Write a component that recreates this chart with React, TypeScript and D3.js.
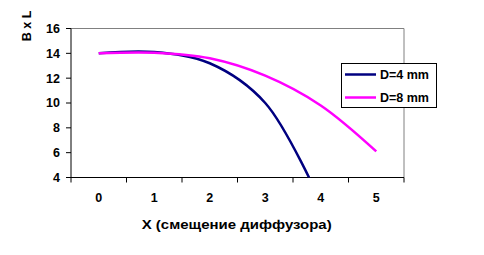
import React from "react";
import * as d3 from "d3";

const categories = ["0", "1", "2", "3", "4", "5"];
const seriesD4 = [14.0, 14.1, 13.2, 10.0, 2.0];
const seriesD8 = [14.0, 14.05, 13.6, 12.2, 9.8, 6.1];
const yTicks = [4, 6, 8, 10, 12, 14, 16];
const seriesNames = ["D=4 mm", "D=8 mm"];
const seriesColors = ["#000080", "#FF00FF"];

const W = 484;
const H = 255;
const left = 71;
const right = 404;
const top = 28.5;
const bottom = 177.5;
const FONT = "'Liberation Sans', Arial, sans-serif";

export default function App() {
  const x = d3.scaleBand<string>().domain(categories).range([left, right]).padding(0);
  const y = d3.scaleLinear().domain([4, 16]).range([bottom, top]);
  const cx = (i: number) => (x(categories[i]) as number) + x.bandwidth() / 2;
  const line = d3
    .line<number>()
    .x((_, i) => cx(i))
    .y((d) => y(d))
    .curve(d3.curveCatmullRom.alpha(0.5));
  const series = [seriesD4, seriesD8];
  const boundaries = [...categories.map((c) => x(c) as number), right];

  return (
    <svg
      width={W}
      height={H}
      style={{ position: "absolute", left: 0, top: 0, background: "#fff" }}
      fontFamily={FONT}
      fontWeight="bold"
    >
      <defs>
        <clipPath id="plotclip">
          <rect x={left} y={top} width={right - left} height={bottom - top} />
        </clipPath>
      </defs>
      <rect x={0} y={0} width={W} height={H} fill="#fff" />
      {/* plot border top/right */}
      <line x1={left} x2={right} y1={top} y2={top} stroke="#808080" strokeWidth={1} />
      <line x1={right} x2={right} y1={top} y2={bottom} stroke="#808080" strokeWidth={1} />
      {/* y axis */}
      <line x1={left} x2={left} y1={top} y2={bottom} stroke="#000" strokeWidth={1} />
      {yTicks.map((t) => (
        <g key={t}>
          <line x1={left - 5} x2={left} y1={y(t)} y2={y(t)} stroke="#000" strokeWidth={1} />
          <text x={60} y={y(t)} dy="0.35em" textAnchor="end" fontSize={12.5} fill="#000">
            {t}
          </text>
        </g>
      ))}
      {/* x axis */}
      <line x1={left} x2={right} y1={bottom} y2={bottom} stroke="#000" strokeWidth={1} />
      {boundaries.map((b, i) => (
        <line key={i} x1={b} x2={b} y1={bottom} y2={bottom + 5} stroke="#000" strokeWidth={1} />
      ))}
      {categories.map((c, i) => (
        <text key={c} x={cx(i)} y={201.5} textAnchor="middle" fontSize={12.5} fill="#000">
          {c}
        </text>
      ))}
      {/* lines */}
      <g clipPath="url(#plotclip)">
        {series.map((s, k) => (
          <path
            key={k}
            d={line(s) as string}
            fill="none"
            stroke={seriesColors[k]}
            strokeWidth={2.5}
            strokeLinejoin="round"
          />
        ))}
      </g>
      {/* axis titles */}
      <text
        x={141.7}
        y={228.5}
        fontSize={12.5}
        fill="#000"
        textLength={190}
        lengthAdjust="spacingAndGlyphs"
      >
        X (смещение диффузора)
      </text>
      <text
        transform="translate(31,26) rotate(-90)"
        textAnchor="middle"
        fontSize={12.5}
        fill="#000"
      >
        B x L
      </text>
      {/* legend */}
      <rect x={341.5} y={63.5} width={95} height={44} fill="#fff" stroke="#000" strokeWidth={1} />
      {seriesNames.map((n, k) => (
        <g key={n}>
          <line
            x1={345}
            x2={376}
            y1={74.5 + k * 23}
            y2={74.5 + k * 23}
            stroke={seriesColors[k]}
            strokeWidth={2.5}
          />
          <text x={380} y={74.5 + k * 23} dy="0.35em" fontSize={12.5} fill="#000">
            {n}
          </text>
        </g>
      ))}
    </svg>
  );
}
